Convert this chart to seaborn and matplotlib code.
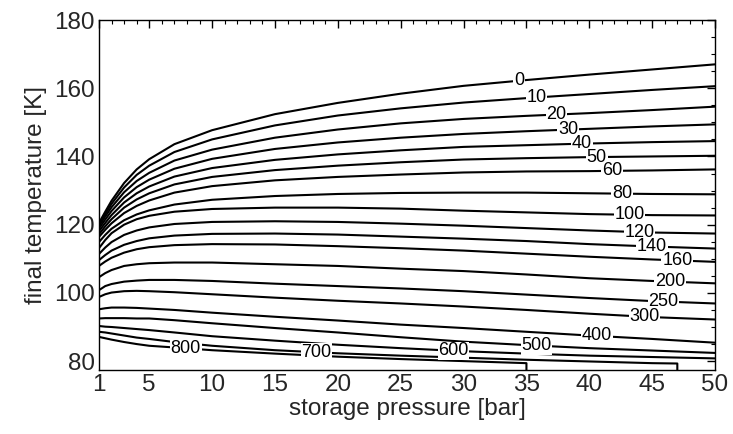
import numpy as np
import pandas as pd
import matplotlib
matplotlib.use("Agg")
import matplotlib.pyplot as plt
from matplotlib.ticker import MultipleLocator, FixedLocator
import seaborn as sns

# ---------------- data ----------------
pressure = [1, 1.5, 2, 3, 4, 5, 7, 10, 15, 20, 25, 30, 35, 40, 45, 50]

T_0   = [120.5, 123.8, 127.0, 132.2, 136.2, 139.2, 143.6, 147.7, 152.4, 155.7, 158.4, 160.7, 162.4, 164.0, 165.5, 167.0]
T_10  = [120.0, 123.1, 126.1, 130.9, 134.6, 137.3, 141.3, 145.0, 149.1, 152.0, 154.1, 155.8, 157.1, 158.3, 159.5, 160.6]
T_20  = [119.6, 122.4, 125.1, 129.5, 132.8, 135.2, 138.8, 142.0, 145.5, 147.9, 149.7, 151.0, 151.9, 152.7, 153.6, 154.6]
T_30  = [118.9, 121.5, 124.0, 128.0, 131.0, 133.2, 136.4, 139.3, 142.2, 144.1, 145.5, 146.6, 147.4, 148.1, 148.8, 149.4]
T_40  = [118.1, 120.5, 122.8, 126.5, 129.2, 131.2, 134.1, 136.6, 139.0, 140.6, 141.8, 142.8, 143.3, 143.8, 144.2, 144.5]
T_50  = [117.2, 119.5, 121.6, 125.0, 127.4, 129.2, 131.8, 134.0, 136.0, 137.3, 138.3, 139.1, 139.5, 139.8, 140.0, 140.2]
T_60  = [116.4, 118.5, 120.4, 123.4, 125.5, 127.1, 129.4, 131.3, 133.0, 134.0, 134.7, 135.3, 135.6, 135.7, 135.9, 136.2]
T_80  = [114.9, 117.0, 118.8, 121.3, 123.0, 124.2, 125.9, 127.3, 128.4, 129.0, 129.3, 129.4, 129.4, 129.2, 129.0, 128.9]
T_100 = [113.1, 115.5, 117.5, 120.0, 121.6, 122.6, 123.8, 124.6, 125.0, 125.0, 124.7, 124.1, 123.6, 123.1, 122.8, 122.7]
T_120 = [111.4, 113.3, 114.9, 117.0, 118.3, 119.2, 120.2, 120.8, 121.0, 120.8, 120.3, 119.7, 119.0, 118.3, 117.7, 117.4]
T_140 = [109.6, 111.1, 112.4, 114.1, 115.2, 116.0, 116.8, 117.3, 117.4, 117.1, 116.5, 115.9, 115.2, 114.3, 113.6, 113.0]
T_160 = [107.9, 109.2, 110.3, 111.8, 112.8, 113.4, 114.0, 114.3, 114.2, 113.7, 113.1, 112.4, 111.5, 110.6, 109.8, 109.1]
T_200 = [104.6, 105.8, 106.7, 107.9, 108.4, 108.7, 108.9, 108.9, 108.4, 107.9, 107.1, 106.4, 105.4, 104.3, 103.5, 102.8]
T_250 = [100.8, 102.0, 102.6, 103.3, 103.6, 103.8, 103.8, 103.5, 102.7, 102.0, 101.3, 100.5, 99.5, 98.5, 97.6, 96.9]
T_300 = [98.8, 99.6, 100.1, 100.5, 100.6, 100.5, 100.2, 99.6, 98.6, 97.7, 96.9, 96.0, 95.0, 93.9, 92.9, 92.2]
T_400 = [95.2, 95.5, 95.7, 95.7, 95.6, 95.4, 95.0, 94.2, 93.0, 91.9, 90.7, 89.7, 88.6, 87.5, 86.5, 85.4]
T_500 = [92.5, 92.6, 92.6, 92.6, 92.5, 92.5, 92.0, 91.1, 89.7, 88.4, 87.0, 85.7, 84.7, 83.8, 83.1, 82.4]
T_600 = [90.3, 90.1, 90.0, 89.7, 89.4, 89.1, 88.4, 87.3, 86.0, 84.8, 83.8, 82.9, 82.2, 81.6, 81.2, 80.8]
T_700 = [88.6, 88.4, 88.1, 87.5, 86.9, 86.5, 85.6, 84.5, 83.2, 82.3, 81.6, 81.0, 80.4, 79.9, 79.4, np.nan]
T_800 = [87.1, 86.7, 86.3, 85.6, 85.0, 84.5, 84.0, 83.2, 82.2, 81.3, 80.6, 80.0, 79.4, np.nan, np.nan, np.nan]

levels = [0, 10, 20, 30, 40, 50, 60, 80, 100, 120, 140, 160, 200, 250, 300, 400, 500, 600, 700, 800]
series = [T_0, T_10, T_20, T_30, T_40, T_50, T_60, T_80, T_100, T_120, T_140, T_160,
          T_200, T_250, T_300, T_400, T_500, T_600, T_700, T_800]

# lines that run into the lower temperature limit: (pressure, last T) before dropping to the limit
T_limit = 77.4
clipped_end = {700: (47, 79.3), 800: (35, 79.4)}

# pressure at which each line's label sits
label_p = [34.4, 35.8, 37.4, 38.3, 39.4, 40.6, 41.8, 42.6, 43.2, 44.0, 45.0, 47.0,
           46.4, 45.9, 44.4, 40.6, 35.8, 29.2, 18.3, 7.9]

x_ticks = [1, 5, 10, 15, 20, 25, 30, 35, 40, 45, 50]
y_ticks = [80, 100, 120, 140, 160, 180]

# ---------------- build long table ----------------
rows = []
for lev, T in zip(levels, series):
    order = 0
    for p, t in zip(pressure, T):
        if not np.isnan(t):
            rows.append((lev, order, p, t)); order += 1
    if lev in clipped_end:
        pe, te = clipped_end[lev]
        rows.append((lev, order, pe, te)); order += 1
        rows.append((lev, order, pe, T_limit)); order += 1
df = pd.DataFrame(rows, columns=["level", "order", "p", "T"])

# ---------------- plot ----------------
sns.set_style("white")
plt.rcParams["font.family"] = ["Liberation Sans", "DejaVu Sans"]

fig = plt.figure(figsize=(7.33, 4.34), dpi=100)
ax = fig.add_axes([0.135, 0.1475, 0.8405, 0.8064])

sns.lineplot(data=df, x="p", y="T", units="level", estimator=None, sort=False,
             color="black", linewidth=1.5, ax=ax, legend=False)

for lev, T, lp in zip(levels, series, label_p):
    ps = [p for p, t in zip(pressure, T) if not np.isnan(t)]
    ts = [t for t in T if not np.isnan(t)]
    ty = np.interp(lp, ps, ts)
    ax.text(lp, ty, str(lev), ha="center", va="center", fontsize=13, color="black",
            bbox=dict(boxstyle="square,pad=0.04", fc="white", ec="none"), zorder=5)

ax.set_xlim(1, 50)
ax.set_ylim(T_limit, 180)
ax.xaxis.set_major_locator(FixedLocator(x_ticks))
ax.xaxis.set_minor_locator(MultipleLocator(1))
ax.yaxis.set_major_locator(FixedLocator(y_ticks))
ax.yaxis.set_minor_locator(MultipleLocator(5))
ax.tick_params(which="both", direction="in", top=True, right=True, color="black")
ax.tick_params(which="major", length=6, width=1, labelsize=17.5, pad=3)
ax.tick_params(which="minor", length=3, width=0.8)
for s in ax.spines.values():
    s.set_color("black"); s.set_linewidth(1.0)
ax.set_xlabel("storage pressure [bar]", fontsize=17.5, labelpad=1)
ax.set_ylabel("final temperature [K]", fontsize=17.5, labelpad=5)

fig.savefig("out.png", dpi=100)
